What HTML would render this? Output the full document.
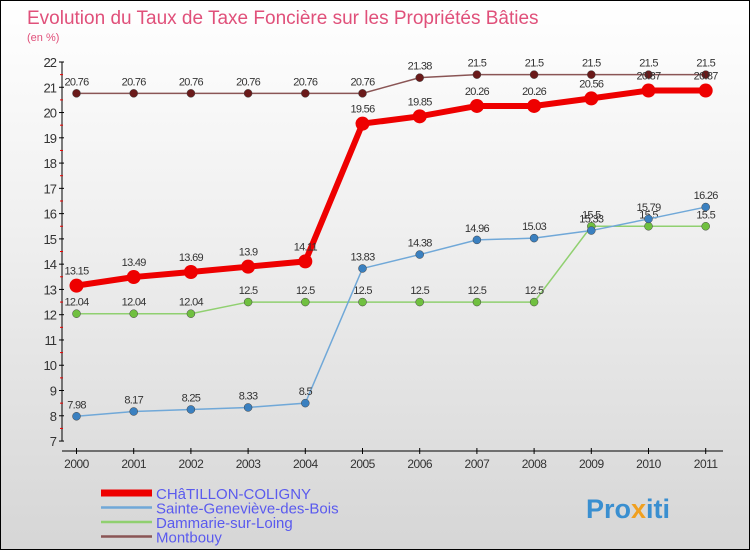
<!DOCTYPE html>
<html><head><meta charset="utf-8"><style>
body{margin:0}
#c{width:750px;height:550px;position:relative;background:linear-gradient(#ffffff 0%,#f0f0f0 40%,#d6d6d6 100%);box-sizing:border-box;border:1px solid #000;overflow:hidden;font-family:"Liberation Sans",sans-serif}
</style></head><body>
<div id="c">
<svg id="s" width="750" height="550" style="position:absolute;left:0;top:0">
<text x="26" y="23" font-size="19" fill="#e0507a">Evolution du Taux de Taxe Foncière sur les Propriétés Bâties</text>
<text x="26" y="40" font-size="11" fill="#e0507a">(en %)</text>
<text x="585" y="517" font-size="27" font-weight="bold" fill="#3a8fd0">Pro<tspan fill="#f0a020">x</tspan>iti</text>
</svg>
</div>
<script>
const years=['2000','2001','2002','2003','2004','2005','2006','2007','2008','2009','2010','2011'];
const chatillon=[13.15,13.49,13.69,13.9,14.11,19.56,19.85,20.26,20.26,20.56,20.87,20.87];
const sainte=[7.98,8.17,8.25,8.33,8.5,13.83,14.38,14.96,15.03,15.33,15.79,16.26];
const dammarie=[12.04,12.04,12.04,12.5,12.5,12.5,12.5,12.5,12.5,15.5,15.5,15.5];
const montbouy=[20.76,20.76,20.76,20.76,20.76,20.76,21.38,21.5,21.5,21.5,21.5,21.5];
const yTicks=[7,8,9,10,11,12,13,14,15,16,17,18,19,20,21,22];
const names=['CHâTILLON-COLIGNY','Sainte-Geneviève-des-Bois','Dammarie-sur-Loing','Montbouy'];
const svg=document.getElementById('s');const NS='http://www.w3.org/2000/svg';
function X(i){return 75.5+i*57.2}
function Y(v){return 61+(22-v)*25.27}
function el(t,a,n){const e=document.createElementNS(NS,t);for(const k in a)e.setAttribute(k,a[k]);


svg.appendChild(e);return e}
el('line',{x1:61,y1:61,x2:61,y2:440,stroke:'#000','stroke-width':1},'y-axis');
el('line',{x1:61,y1:450,x2:722,y2:450,stroke:'#000','stroke-width':1},'x-axis');
yTicks.forEach(v=>{el('line',{x1:58,x2:63,y1:Y(v),y2:Y(v),stroke:'#000'},'y-tick');
if(v<22)el('line',{x1:59,x2:62,y1:Y(v+0.5),y2:Y(v+0.5),stroke:'#e00'},'y-minor-tick');
const t=el('text',{x:55,y:Y(v)+5,'font-size':13,fill:'#333','text-anchor':'end','letter-spacing':'-1'},'y-tick-label');t.textContent=v;});
years.forEach((y,i)=>{el('line',{x1:X(i),x2:X(i),y1:447,y2:453,stroke:'#000'},'x-tick');
const t=el('text',{x:X(i),y:467,'font-size':12,fill:'#333','text-anchor':'middle','letter-spacing':'-0.5'},'x-tick-label');t.textContent=y;});
const series=[[montbouy,'#8a5555','#6a1a1a',1.5,4,'montbouy'],[dammarie,'#90d070','#70c040',1.5,4,'dammarie'],[sainte,'#70a8d8','#3a80c0',1.5,4,'sainte-genevieve'],[chatillon,'#ee0000','#ee0000',6,7,'chatillon']];
series.forEach(([d,lc,pc,w,r,n])=>{
el('polyline',{points:d.map((v,i)=>X(i)+','+Y(v)).join(' '),fill:'none',stroke:lc,'stroke-width':w},n+'-line');
d.forEach((v,i)=>{el('circle',{cx:X(i),cy:Y(v),r:r,fill:pc,stroke:n=='chatillon'?'none':'#444','stroke-width':0.5},n+'-point');
const t=el('text',{x:X(i),y:Y(v)-(n=='chatillon'?11:8),'font-size':11,fill:'#333','text-anchor':'middle','letter-spacing':'-0.7'},n+'-value-label');t.textContent=String(v).replace(/\.?0+$/,'')==''?v:v;});
});
const lc=['#ee0000','#70a8d8','#90d070','#8a5555'],lw=[7,2.5,2.5,2.5];
names.forEach((nm,i)=>{const y=492+i*14.5;
el('line',{x1:100,x2:151,y1:y,y2:y,stroke:lc[i],'stroke-width':lw[i]},'legend-swatch');
const t=el('text',{x:155,y:y+6,'font-size':15,fill:'#5a5aee'},'legend-entry');t.textContent=nm;});
</script>
</body></html>
